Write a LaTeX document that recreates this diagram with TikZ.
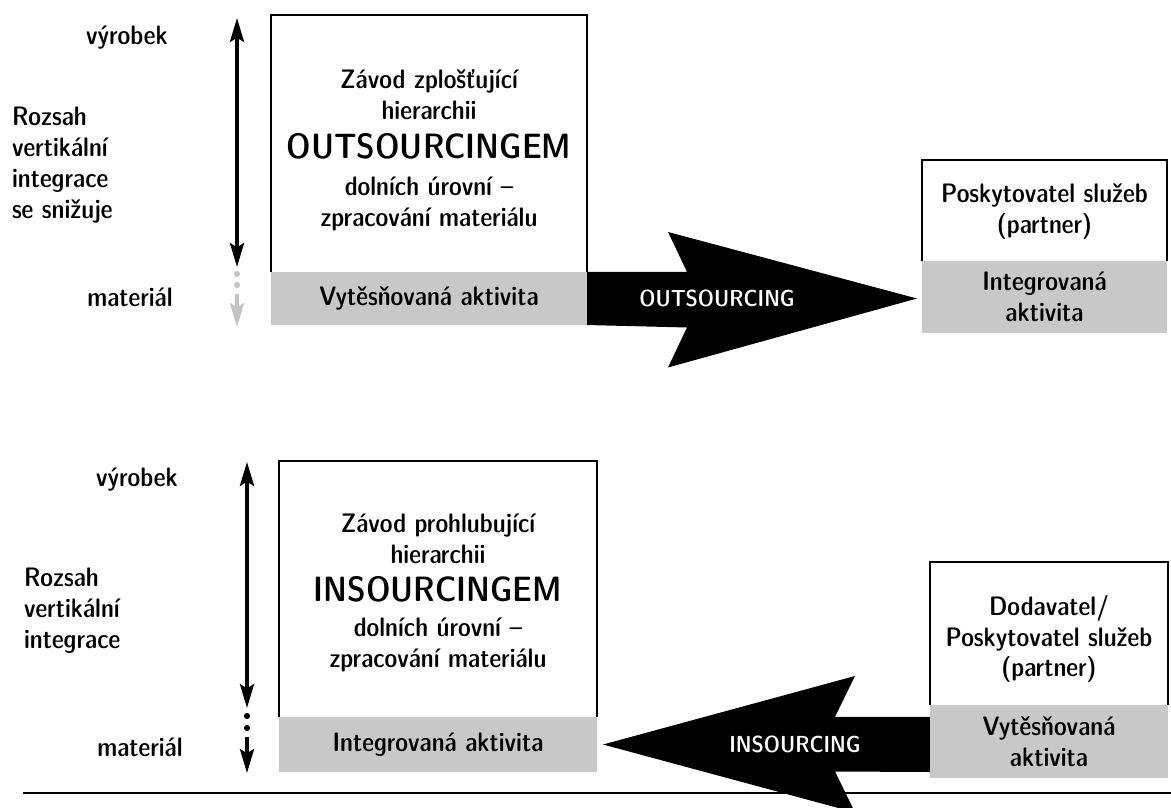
\documentclass[tikz,border=0pt]{standalone}
\usetikzlibrary{calc, positioning, arrows.meta}

\definecolor{bandgray}{RGB}{200,200,200}
\definecolor{fadegray}{RGB}{196,196,196}
\newcommand{\diagfont}{\sffamily\fontseries{sbc}\selectfont}

\begin{document}
\begin{tikzpicture}[
  x=0.025cm, y=-0.025cm,
  every node/.style={font=\diagfont\fontsize{19}{22}\selectfont, inner sep=0pt, outer sep=0pt},
  frame/.style={inner sep=0pt},
  frameline/.style={line width=1.8pt},
  band/.style={fill=bandgray, align=center},
  txt/.style={align=center},
  side/.style={align=left, anchor=west},
  bigword/.style={font=\diagfont\fontsize{25}{30}\selectfont},
  flowlabel/.style={text=white, font=\diagfont\fontsize{16.5}{20}\selectfont},
  bigarrow/.style={fill=black},
  rangearrow/.style={line width=2.5pt, {Stealth[length=17pt, width=10pt, inset=3pt]}-{Stealth[length=17pt, width=10pt, inset=3pt]}},
  downarrow/.style={line width=2.5pt, -{Stealth[length=17pt, width=10pt, inset=3pt]}}
]
\useasboundingbox (0,0) rectangle (1171,808);

% ---------- upper part: outsourcing ----------
% Bands and frames
\node[band, minimum width=7.9cm, minimum height=1.325cm] (outband) at (429,298.5) {Vytěsňovaná aktivita};
\node[frame, minimum width=7.9cm, minimum height=6.425cm, above=0pt of outband] (outframe) {};
\draw[frameline] (outframe.south west) |- (outframe.north east) -- (outframe.south east);

\node[band, minimum width=6.125cm, minimum height=1.8cm] (partband) at (1044.5,297) {Integrovaná\\aktivita};
\node[frame, minimum width=6.125cm, minimum height=2.525cm, above=0pt of partband] (partframe) {};
\draw[frameline] (partframe.south west) |- (partframe.north east) -- (partframe.south east);

% Texts in frames
\node[txt] (outtitle) at (429,95) {Závod zplošťující\\hierarchii};
\node[bigword] (outword) at (429,146) {OUTSOURCINGEM};
\node[txt] (outsub) at (429,204) {dolních úrovní –\\zpracování materiálu};
\node[txt] (parttitle) at (1044.5,212) {Poskytovatel služeb\\(partner)};

% Big arrow
\coordinate (outtip) at ($(outband.east -| partband.west)+(-5,0)$);
\fill[bigarrow] (outband.north east) -- ++(100,0) -- ++(-19,-40) -- (outtip)
  -- ($(outtip)+(-249,69)$) -- ++(19,-40) -- (outband.south east) -- cycle;
\node[flowlabel] (outflow) at (717,298.5) {OUTSOURCING};

% Vertical range
\coordinate (outtop) at (237,18);
\coordinate (outlow) at (237,267);
\coordinate (outfade) at (237,294);
\coordinate (outend) at (237,327);
\draw[rangearrow] (outtop) -- (outlow);
\fill[fadegray] (237,274) circle (2.2pt);
\fill[fadegray] (237,285) circle (2.2pt);
\draw[downarrow, fadegray] (outfade) -- (outend);

% Side labels
\node (outprod) at (127,38) {výrobek};
\node[side] (outrange) at (12,165) {Rozsah\\vertikální\\integrace\\se snižuje};
\node (outmat) at (130,297) {materiál};

% ---------- lower part: insourcing ----------
\node[band, minimum width=7.95cm, minimum height=1.375cm] (intband) at (438,744.5) {Integrovaná aktivita};
\node[frame, minimum width=7.95cm, minimum height=6.4cm, above=0pt of intband] (inframe) {};
\draw[frameline] (inframe.south west) |- (inframe.north east) -- (inframe.south east);

\node[band, minimum width=5.95cm, minimum height=1.825cm] (supband) at (1049,741.5) {Vytěsňovaná\\aktivita};
\node[frame, minimum width=5.95cm, minimum height=3.575cm, above=0pt of supband] (supframe) {};
\draw[frameline] (supframe.south west) |- (supframe.north east) -- (supframe.south east);

\node[txt] (intitle) at (438,539) {Závod prohlubující\\hierarchii};
\node[bigword] (inword) at (438,589) {INSOURCINGEM};
\node[txt] (insub) at (438,645) {dolních úrovní –\\zpracování materiálu};
\node[txt] (suptitle) at (1049,639) {Dodavatel/\\Poskytovatel služeb\\(partner)};

% Base line
\draw[line width=1.2pt] (23,793) -- (1171,793);

% Big arrow
\coordinate (intip) at ($(intband.east)+(6,0)$);
\fill[bigarrow] (supband.west |- intband.north) -- ++(-95,0) -- ++(20,-41) -- (intip)
  -- ($(intip)+(252,68)$) -- ++(-20,-41) -- (supband.west |- intband.south) -- cycle;
\node[flowlabel] (inflow) at (795,744) {INSOURCING};

% Vertical range
\coordinate (intop) at (247,462);
\coordinate (inlow) at (247,708);
\coordinate (infade) at (247,737);
\coordinate (inend) at (247,773);
\draw[rangearrow] (intop) -- (inlow);
\fill (247,716) circle (2.2pt);
\fill (247,728) circle (2.2pt);
\draw[downarrow] (infade) -- (inend);

\node (inprod) at (137,480) {výrobek};
\node[side] (inrange) at (24,611) {Rozsah\\vertikální\\integrace};
\node (inmat) at (140,747) {materiál};

\end{tikzpicture}
\end{document}
